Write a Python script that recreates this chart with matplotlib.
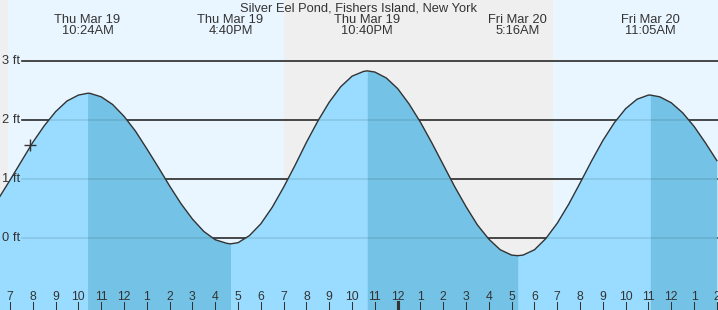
#tide chart - Silver Eel Pond
import numpy as np
import matplotlib
matplotlib.use('Agg')
import matplotlib.pyplot as plt

plt.rcParams['font.family'] = ['Liberation Sans', 'DejaVu Sans']

# predicted height (ft) every half hour, hours from midnight Thu Mar 19
horas = np.arange(6.5, 38.01, 0.5)
altura = [0.67, 0.98, 1.30, 1.62, 1.90, 2.14, 2.32, 2.42,
          2.45, 2.39, 2.26, 2.06, 1.81, 1.51, 1.20, 0.88, 0.58, 0.32, 0.11, -0.03, -0.09,
          -0.08, 0.04, 0.24, 0.52, 0.86, 1.23, 1.62, 1.98, 2.30, 2.56, 2.74, 2.82,
          2.81, 2.71, 2.53, 2.27, 1.96, 1.61, 1.24, 0.87, 0.53, 0.22, -0.02, -0.20, -0.29,
          -0.29, -0.20, -0.01, 0.25, 0.57, 0.93, 1.30, 1.65, 1.95, 2.19, 2.35, 2.42,
          2.39, 2.29, 2.12, 1.89, 1.61, 1.31]

# highs and lows
ext_hora = [10.4, 16.667, 22.667, 29.267, 35.083]
ext_altura = [2.45, -0.10, 2.83, -0.30, 2.42]
ext_tipo = ['H', 'L', 'H', 'L', 'H']
ext_dia = ['Thu Mar 19', 'Thu Mar 19', 'Thu Mar 19', 'Fri Mar 20', 'Fri Mar 20']
ext_reloj = ['10:24AM', '4:40PM', '10:40PM', '5:16AM', '11:05AM']

# night (sunset -> sunrise)
noches = [(6.0, 6.91), (19.0, 30.82)]

ahora_t, ahora_h = 7.88, 1.57

titulo = 'Silver Eel Pond, Fishers Island, New York'
niveles = [0, 1, 2, 3]

x0, x1 = 6.56, 38.05
y0, y1 = -1.22, 4.03

fig = plt.figure(figsize=(7.18, 3.10), dpi=100)
ax = fig.add_axes([0, 0, 1, 1])
ax.set_xlim(x0, x1)
ax.set_ylim(y0, y1)
ax.axis('off')

ax.axvspan(x0, x1, color='#eaf6ff', zorder=0)
for a, b in noches:
    ax.axvspan(a, b, color='#efefef', zorder=0.5, lw=0)

# merge half-hour samples with the extremes
t = np.concatenate([horas, ext_hora])
h = np.concatenate([altura, ext_altura])
orden = np.argsort(t)
t, h = t[orden], h[orden]

xlinea = x0 + 22 / 718 * (x1 - x0)
for n in niveles:
    ax.plot([xlinea, x1], [n, n], color='#333333', lw=1.2, zorder=1)
    ax.text(x0 + 2 / 718 * (x1 - x0), n, '%d ft' % n, fontsize=9.3,
            color='#333333', va='center', ha='left', zorder=6)

ax.fill_between(t, h, y0 - 1, color='#99dcff', lw=0, zorder=2)
altas = [ext_hora[i] for i in range(len(ext_hora)) if ext_tipo[i] == 'H']
bajas = [ext_hora[i] for i in range(len(ext_hora)) if ext_tipo[i] == 'L'] + [x1 + 1]
for a, b in zip(altas, bajas):
    m = (t >= a) & (t <= b)
    ax.fill_between(t[m], h[m], y0 - 1, color='#74c3e6', lw=0, zorder=2.1)

for n in niveles:
    ax.plot([xlinea, x1], [n, n], color='black', alpha=0.1, lw=1.2, zorder=3)

ax.plot(t, h, color='#333333', lw=1.0, zorder=4)
ax.plot(ahora_t, ahora_h, marker='+', color='#333333', ms=9, mew=1, zorder=5)

# labels at the highs and lows
for i in range(len(ext_hora)):
    ax.text(ext_hora[i], 4.03 - 25.5 / 59, ext_dia[i] + '\n' + ext_reloj[i],
            fontsize=9.3, color='#333333', ha='center', va='center',
            linespacing=0.95, zorder=6)
ax.text((x0 + x1) / 2, 4.03 - 8 / 59, titulo, fontsize=9.3, color='#333333',
        ha='center', va='center', zorder=6)

# hour ticks
for hr in range(7, 39):
    etiqueta = str((hr - 1) % 12 + 1)
    ax.text(hr, -1.22 + 12.5 / 59, etiqueta, fontsize=8.8, color='#333333',
            ha='center', va='center', zorder=6)
    ancho = 3 if hr == 24 else 1
    ax.plot([hr, hr], [y0, y0 + 8 / 59], color='#333333', lw=ancho * 0.75, zorder=6)

fig.savefig('out.png', dpi=100)
